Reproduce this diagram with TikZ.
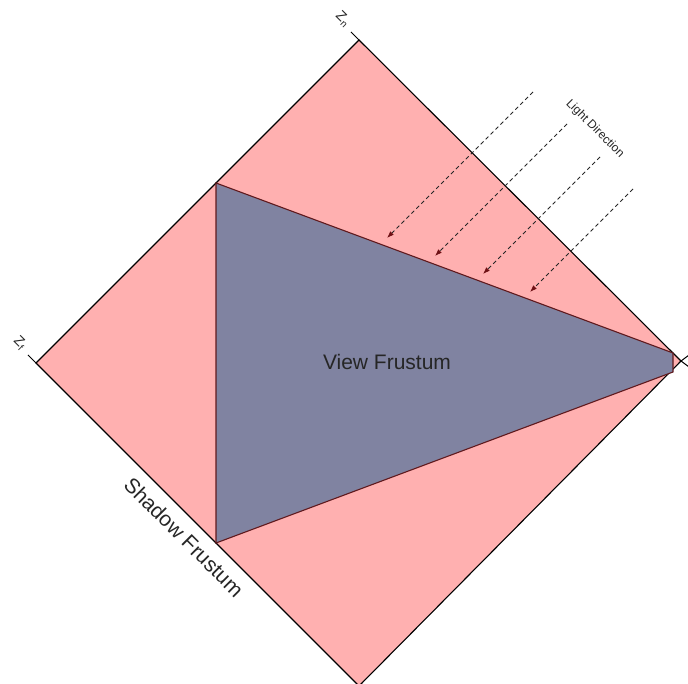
\documentclass[tikz,border=0pt]{standalone}
\usepackage{fontspec}
\setmainfont{Liberation Sans}
\usetikzlibrary{arrows.meta}
\definecolor{shadowpink}{RGB}{255,176,176}
\definecolor{viewblue}{RGB}{128,131,161}
\definecolor{frustred}{RGB}{96,26,30}
\definecolor{arrowred}{RGB}{110,16,20}
\tikzset{
  sqedge/.style={draw=black,line width=1.1pt,line join=miter},
  frustedge/.style={draw=frustred,line width=1.1pt,line join=miter},
  lightray/.style={draw=black!85,line width=0.8pt,dash pattern=on 4pt off 3pt,
     -{Latex[length=7pt,width=5pt,color=arrowred,fill=arrowred]}},
  bigtext/.style={font=\fontsize{21}{25}\selectfont,text=black!85},
  smalltext/.style={font=\fontsize{12}{14}\selectfont,text=black!85},
  axistext/.style={font=\fontsize{14}{16}\selectfont,text=black!85,inner sep=1pt}
}
\begin{document}
\begin{tikzpicture}[x=1pt,y=-1pt]
\useasboundingbox (0,0) rectangle (688,684);
% shadow frustum square
\coordinate (T) at (359,40);
\coordinate (L) at (36,363);
\coordinate (B) at (359,686);
\coordinate (R) at (681,361);
\fill[shadowpink] (T) -- (R) -- (B) -- (L) -- cycle;
\draw[sqedge] (T) -- (R) -- (B) -- (L) -- cycle;
% ticks
\coordinate (Tt) at (351,32);
\coordinate (Lt) at (28,355);
\coordinate (Ra) at (689,355);
\coordinate (Rb) at (689,367);
\draw[black,line width=1pt] (T) -- (Tt);
\draw[black,line width=1pt] (L) -- (Lt);
\draw[black,line width=1pt] (Ra) -- (R) -- (Rb);
\node[axistext,rotate=-45] (zn) at (343,19) {Z\textsubscript{n}};
\node[axistext,rotate=-45] (zf) at (20,343) {Z\textsubscript{f}};
% view frustum
\coordinate (F1) at (216,183);
\coordinate (F2) at (673,353);
\coordinate (F3) at (673,372);
\coordinate (F4) at (216,543);
\fill[viewblue] (F1) -- (F2) -- (F3) -- (F4) -- cycle;
\draw[frustedge] (F1) -- (F2) -- (F3) -- (F4) -- cycle;
\node[bigtext] (vf) at (387,362) {View Frustum};
\node[bigtext,rotate=-45] (sf) at (184,537) {Shadow Frustum};
% light rays
\coordinate (s1) at (533,92);
\coordinate (e1) at (387,238);
\coordinate (s2) at (567,124);
\coordinate (e2) at (435,256);
\coordinate (s3) at (600,157);
\coordinate (e3) at (483,274);
\coordinate (s4) at (633,189);
\coordinate (e4) at (530,292);
\draw[lightray] (s1) -- (e1);
\draw[lightray] (s2) -- (e2);
\draw[lightray] (s3) -- (e3);
\draw[lightray] (s4) -- (e4);
\node[smalltext,rotate=-45] (ld) at (595,129) {Light Direction};
\end{tikzpicture}
\end{document}
